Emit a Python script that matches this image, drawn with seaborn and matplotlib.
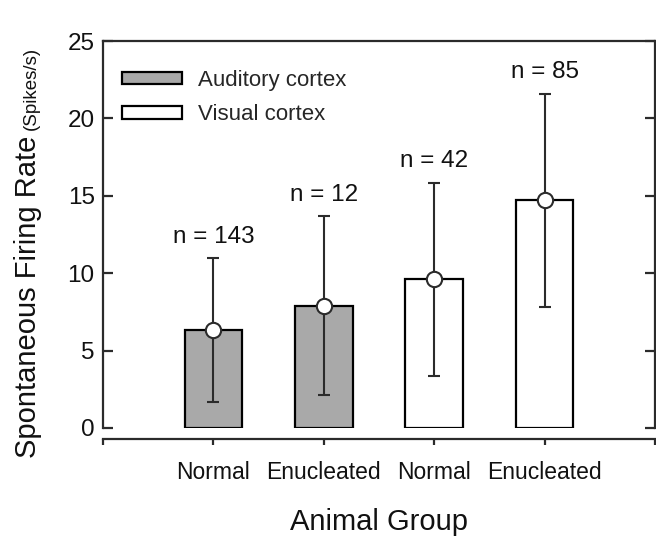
"""   Spontaneous firing rate per animal group, bar chart with SD whiskers   """
import matplotlib
matplotlib.use('Agg')
import matplotlib.pyplot as plt
from matplotlib.patches import Patch
import numpy as np
import pandas as pd
import seaborn as sns


# ~~~~~~~  Data  ~~~~~~~ #
groups = ['Normal', 'Enucleated', 'Normal', 'Enucleated']
cortex = ['Auditory cortex', 'Auditory cortex', 'Visual cortex', 'Visual cortex']
means = [6.3, 7.9, 9.6, 14.7]
sds = [4.65, 5.8, 6.25, 6.9]
counts = [143, 12, 42, 85]

keys = [f'{c} {g}' for c, g in zip(cortex, groups)]  # unique category per bar
df = pd.DataFrame({'key': keys, 'group': groups, 'cortex': cortex, 'rate': means})

W, H = 656, 539
INK = '#2b2b2b'
TXT = '#111111'

sns.set_style('white')
plt.rcParams['font.family'] = ['Liberation Sans', 'DejaVu Sans']

fig = plt.figure(figsize=(W / 100, H / 100), dpi=100)
# axes box in pixels: left 103, right 655, top 41, bottom 428
ax = fig.add_axes([103 / W, 1 - 428 / H, (655 - 103) / W, (428 - 41) / H])

sns.barplot(data=df, x='key', y='rate', hue='cortex', order=keys,
            palette={'Auditory cortex': '#a9a9a9', 'Visual cortex': 'white'},
            dodge=False, width=0.52, edgecolor='black', linewidth=1.6,
            errorbar=None, legend=False, ax=ax)

# whiskers (mean +/- SD) and the open circle at the mean
xpos = np.arange(len(keys))
ax.errorbar(xpos, means, yerr=sds, fmt='o', color=INK, ecolor=INK,
            elinewidth=1.5, capsize=4.6, capthick=1.5, markersize=11,
            markerfacecolor='white', markeredgecolor=INK, markeredgewidth=1.5,
            zorder=5)

# sample size above each whisker
for x, m, s, n in zip(xpos, means, sds, counts):
    ax.annotate(f'n = {n}', (x, m + s), xytext=(0, 11), textcoords='offset points',
                ha='center', va='baseline', fontsize=17.5, color=TXT)

# axes limits, ticks and spines (SigmaPlot-like look)
ax.set_xlim(-1, 4)
ax.set_ylim(0, 25)
ax.set_yticks([0, 5, 10, 15, 20, 25])
ax.set_yticklabels(['0', '5', '10', '15', '20', '25'])
ax.set_xticks([-1, 0, 1, 2, 3, 4])
ax.set_xticklabels([''] + groups + [''])
ax.set_xlabel('')
ax.set_ylabel('')

for side in ['left', 'right', 'top', 'bottom']:
    ax.spines[side].set_visible(True)
    ax.spines[side].set_color(INK)
    ax.spines[side].set_linewidth(1.6)
ax.spines['bottom'].set_position(('outward', 8))

ax.tick_params(axis='y', which='both', direction='in', length=7, width=1.6,
               color=INK, left=True, right=True, labelsize=17.5, pad=6,
               labelcolor=TXT)
ax.tick_params(axis='x', direction='out', length=4, width=1.6, color=INK,
               bottom=True, labelsize=16.5, pad=12, labelcolor=TXT)

# legend
handles = [Patch(facecolor='#a9a9a9', edgecolor='black', linewidth=1.6),
           Patch(facecolor='white', edgecolor='black', linewidth=1.6)]
ax.legend(handles, ['Auditory cortex', 'Visual cortex'], loc='upper left',
          bbox_to_anchor=(122 / W, 1 - 70 / H), bbox_transform=fig.transFigure,
          frameon=False, fontsize=16, handlelength=2.7, handleheight=0.5,
          handletextpad=0.7, labelspacing=0.6, borderpad=0, borderaxespad=0)

# axis titles
fig.text((103 + 655) / 2 / W, 1 - 522 / H, 'Animal Group', ha='center',
         va='center', fontsize=21, color=TXT)

big = fig.text(36 / W, 1 - 458 / H, 'Spontaneous Firing Rate', rotation=90,
               rotation_mode='anchor', ha='left', va='baseline', fontsize=21,
               color=TXT)
fig.canvas.draw()
bb = big.get_window_extent()
fig.text(36 / W, (bb.y1 + 6) / H, '(Spikes/s)', rotation=90,
         rotation_mode='anchor', ha='left', va='baseline', fontsize=13.5,
         color=TXT)

fig.savefig('out.png', dpi=100)
